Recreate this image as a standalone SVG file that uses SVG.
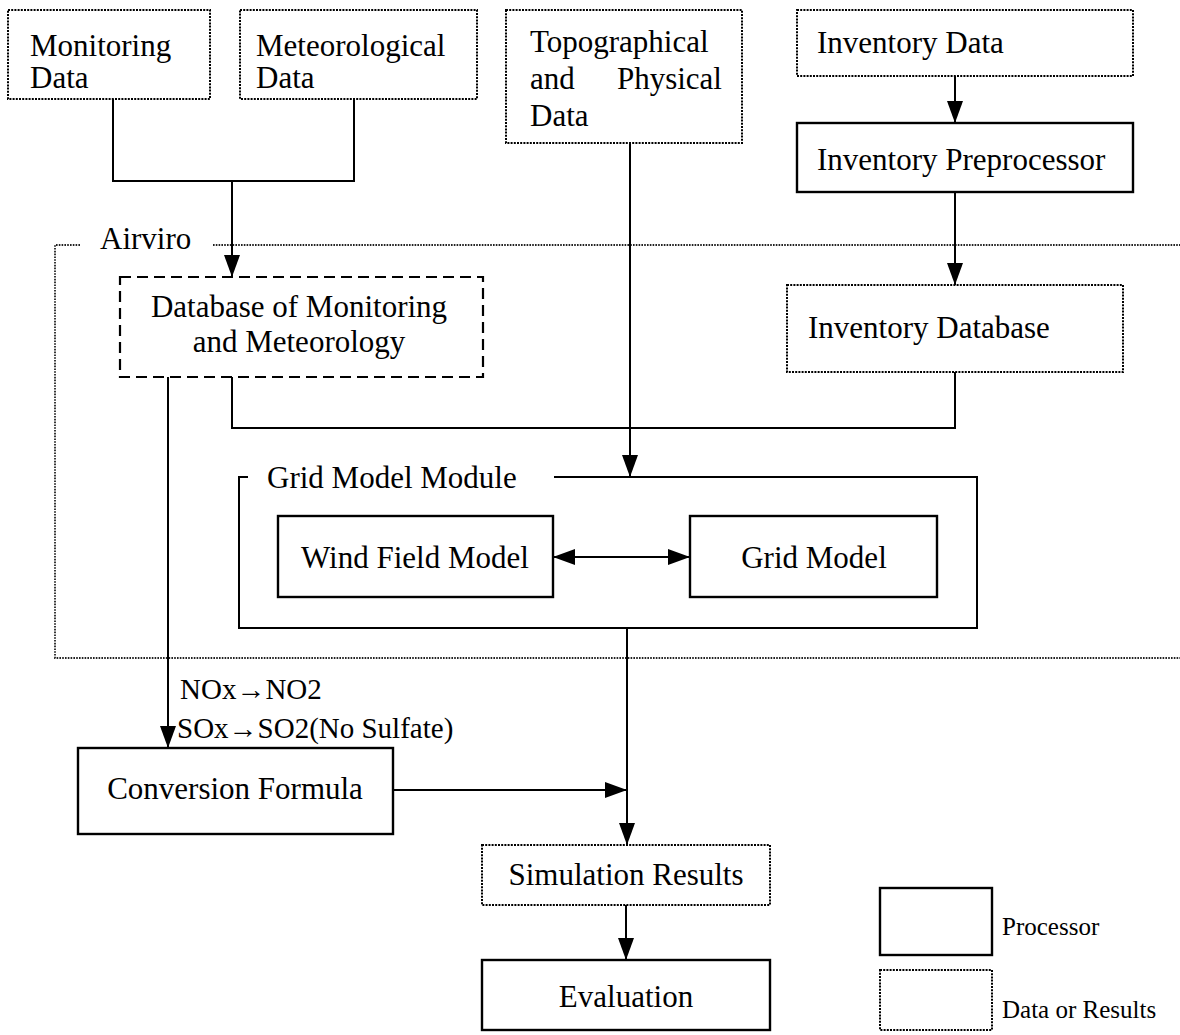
<svg xmlns="http://www.w3.org/2000/svg" width="1180" height="1035" viewBox="0 0 1180 1035">
<style>
  text { font-family: "Liberation Serif", "Times New Roman", serif; font-size: 31px; fill: #000; }
  .small { font-size: 29px; }
  .legend { font-size: 25px; }
  .data { fill: none; stroke: #000; stroke-width: 2; stroke-dasharray: 2 1.2; }
  .proc { fill: none; stroke: #000; stroke-width: 2.4; }
  .dash { fill: none; stroke: #000; stroke-width: 2.2; stroke-dasharray: 11 6; }
  .area { fill: none; stroke: #222; stroke-width: 1.8; stroke-dasharray: 1.6 1.2; }
  .frame { fill: none; stroke: #000; stroke-width: 2; }
  .conn { fill: none; stroke: #000; stroke-width: 2; }
  .arr { marker-end: url(#ah); }
</style>
<defs>
  <marker id="ah" viewBox="0 0 22 16" refX="22" refY="8" markerWidth="22" markerHeight="16" orient="auto-start-reverse" markerUnits="userSpaceOnUse">
    <path d="M0,0 L22,8 L0,16 z" fill="#000"/>
  </marker>
</defs>
<rect width="1180" height="1035" fill="#fff"/>

<g id="airviro">
  <path class="area" d="M80,245 H55 V658 H1180 M213,245 H1180"/>
  <text x="100" y="249">Airviro</text>
</g>

<g id="grid-model-module">
  <path class="frame" d="M248,477 H239 V628 H977 V477 H554"/>
  <text x="267" y="488">Grid Model Module</text>
</g>

<g id="monitoring-data">
  <rect class="data" x="8" y="10" width="202" height="89"/>
  <text x="30" y="56">Monitoring</text>
  <text x="30" y="88">Data</text>
</g>

<g id="meteorological-data">
  <rect class="data" x="240" y="10" width="237" height="89"/>
  <text x="256" y="56">Meteorological</text>
  <text x="256" y="88">Data</text>
</g>

<g id="topographical-data">
  <rect class="data" x="506" y="10" width="236" height="133"/>
  <text x="530" y="52">Topographical</text>
  <text x="530" y="89">and</text>
  <text x="722" y="89" text-anchor="end">Physical</text>
  <text x="530" y="126">Data</text>
</g>

<g id="inventory-data">
  <rect class="data" x="797" y="10" width="336" height="66"/>
  <text x="817" y="53">Inventory Data</text>
</g>

<g id="inventory-preprocessor">
  <rect class="proc" x="797" y="123" width="336" height="69"/>
  <text x="817" y="170">Inventory Preprocessor</text>
</g>

<g id="database-monitoring-meteorology">
  <rect class="dash" x="120" y="277" width="363" height="100"/>
  <text x="299" y="317" text-anchor="middle">Database of Monitoring</text>
  <text x="299" y="352" text-anchor="middle">and Meteorology</text>
</g>

<g id="inventory-database">
  <rect class="data" x="787" y="285" width="336" height="87"/>
  <text x="808" y="338">Inventory Database</text>
</g>

<g id="wind-field-model">
  <rect class="proc" x="278" y="516" width="275" height="81"/>
  <text x="415" y="568" text-anchor="middle">Wind Field Model</text>
</g>

<g id="grid-model">
  <rect class="proc" x="690" y="516" width="247" height="81"/>
  <text x="814" y="568" text-anchor="middle">Grid Model</text>
</g>

<g id="conversion-formula">
  <rect class="proc" x="78" y="748" width="315" height="86"/>
  <text x="235" y="799" text-anchor="middle">Conversion Formula</text>
</g>

<g id="simulation-results">
  <rect class="data" x="482" y="845" width="288" height="60"/>
  <text x="626" y="885" text-anchor="middle">Simulation Results</text>
</g>

<g id="evaluation">
  <rect class="proc" x="482" y="960" width="288" height="70"/>
  <text x="626" y="1007" text-anchor="middle">Evaluation</text>
</g>

<g id="legend">
  <rect class="proc" x="880" y="888" width="112" height="67"/>
  <text class="legend" x="1002" y="935">Processor</text>
  <rect class="data" x="880" y="970" width="112" height="60"/>
  <text class="legend" x="1002" y="1018">Data or Results</text>
</g>

<g id="connectors">
  <path class="conn" d="M113,99 V181 H354 V99"/>
  <path class="conn arr" d="M232,181 V277"/>
  <path class="conn arr" d="M630,143 V477"/>
  <path class="conn arr" d="M955,76 V123"/>
  <path class="conn arr" d="M955,192 V285"/>
  <path class="conn" d="M232,377 V428 H955 V372"/>
  <path class="conn arr" d="M168,377 V748"/>
  <path class="conn" d="M553,557 H690" marker-start="url(#ah)" marker-end="url(#ah)"/>
  <path class="conn arr" d="M627,628 V845"/>
  <path class="conn arr" d="M393,790 H627"/>
  <path class="conn arr" d="M626,905 V960"/>
  <text class="small" x="180" y="699">NOx→NO2</text>
  <text class="small" x="177" y="738">SOx→SO2(No Sulfate)</text>
</g>
</svg>
